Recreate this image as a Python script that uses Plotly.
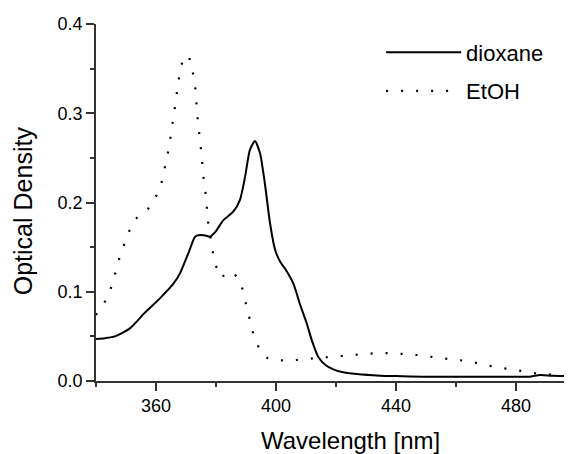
import plotly.graph_objects as go

# dioxane spectrum (solid line)
dioxane_nm = [340, 343, 346.3, 351.3, 356.3, 361.3, 365.8, 368, 371, 373, 374.7, 376.5, 378,
              380, 382.4, 385.8, 388, 389.7, 391.3, 393, 394.7, 396.3, 398, 399.7, 401.5,
              403, 405.8, 408, 410.2, 412, 414.1, 416.5, 419.1, 422, 426.9, 434.7, 440,
              449, 458, 468, 476, 484.7, 488, 492, 498.7]
dioxane_od = [0.047, 0.048, 0.050, 0.059, 0.0766, 0.0926, 0.109, 0.1206, 0.145, 0.1617, 0.1636,
              0.163, 0.1617, 0.168, 0.180, 0.190, 0.203, 0.229, 0.259, 0.269, 0.255, 0.221,
              0.177, 0.147, 0.133, 0.126, 0.109, 0.086, 0.065, 0.045, 0.027, 0.018, 0.013,
              0.010, 0.0078, 0.006, 0.0055, 0.0048, 0.0048, 0.0048, 0.0048, 0.0048, 0.0067,
              0.006, 0.0056]

# EtOH spectrum (dotted line)
etoh_nm = [340, 343, 345.2, 348, 350.8, 353, 357.4, 360.2, 361.9, 363, 363.9, 364.7, 365.4,
           366, 366.7, 367.3, 368, 369.1, 370.1, 371.1, 372.2, 373, 373.3, 373.8, 374.1, 374.7,
           375.1, 375.6, 376, 376.6, 377.4, 378.8, 379.7, 381.3, 383.5, 385.6, 388.3, 389.4,
           390.4, 391.5, 392.7, 394.9, 397, 399.3, 404.2, 409.1, 414.1, 419.1, 424.1, 429.1,
           434.1, 439.1, 444.1, 448.6, 453.6, 458.6, 463.6, 468.6, 473.6, 478.6, 483.6, 488,
           493.6, 498.7]
etoh_od = [0.074, 0.089, 0.106, 0.140, 0.166, 0.181, 0.193, 0.208, 0.223, 0.239, 0.254, 0.270,
           0.285, 0.301, 0.316, 0.332, 0.347, 0.362, 0.365, 0.362, 0.347, 0.332, 0.316, 0.301,
           0.285, 0.270, 0.254, 0.239, 0.223, 0.208, 0.177, 0.147, 0.132, 0.116, 0.119, 0.1225,
           0.110, 0.0945, 0.0795, 0.0646, 0.049, 0.0329, 0.026, 0.0235, 0.0228, 0.0243, 0.0261,
           0.0272, 0.0288, 0.0302, 0.0314, 0.0310, 0.0302, 0.0288, 0.0261, 0.0246, 0.0224,
           0.019, 0.0153, 0.013, 0.010, 0.0078, 0.0067, 0.006]

x_ticks = [360, 400, 440, 480]
y_ticks = [0.0, 0.1, 0.2, 0.3, 0.4]

fig = go.Figure()
fig.add_trace(go.Scatter(x=dioxane_nm, y=dioxane_od, mode="lines", name="dioxane",
                         legendgroup="a",
                         line=dict(color="black", width=2, shape="spline", smoothing=0.6)))
fig.add_trace(go.Scatter(x=etoh_nm, y=etoh_od, mode="lines", name="EtOH",
                         legendgroup="b",
                         line=dict(color="black", width=2.2, dash="2px,13px")))

# page body has an 8px margin, so the figure is a bit smaller than the window
axis_font = dict(family="Liberation Sans", size=18, color="black")
fig.update_layout(
    width=564, height=446,
    margin=dict(l=88, r=0, t=16, b=73),
    plot_bgcolor="white", paper_bgcolor="white",
    font=dict(family="Liberation Sans", color="black"),
    showlegend=True,
    legend=dict(x=0.599, y=0.979, xanchor="left", yanchor="top",
                bgcolor="rgba(0,0,0,0)", font=dict(size=22), itemwidth=75,
                tracegroupgap=7),
    xaxis=dict(range=[340, 498.67], tickvals=x_ticks, ticks="outside", ticklen=8,
               tickwidth=1.5, tickcolor="#333", showline=True, linecolor="#333",
               linewidth=1.5, showgrid=False, zeroline=False, tickfont=axis_font,
               automargin=False,
               minor=dict(tickvals=[340, 380, 420, 460], ticks="outside", ticklen=4,
                          tickwidth=1.5, tickcolor="#333")),
    yaxis=dict(range=[0, 0.4], tickvals=y_ticks, ticktext=["0.0", "0.1", "0.2", "0.3", "0.4"],
               ticks="outside", ticklen=8, tickwidth=1.5, tickcolor="#333",
               showline=True, linecolor="#333", linewidth=1.5, showgrid=False,
               zeroline=False, tickfont=axis_font, automargin=False,
               minor=dict(tickvals=[0.05, 0.15, 0.25, 0.35], ticks="outside", ticklen=4,
                          tickwidth=1.5, tickcolor="#333")),
)

# axis titles as annotations (they sit a little off-centre in the original)
fig.add_annotation(text="Wavelength [nm]", xref="paper", yref="paper", x=0.534, y=-0.168,
                   xanchor="center", yanchor="middle", showarrow=False,
                   font=dict(size=24))
fig.add_annotation(text="Optical Density", xref="paper", yref="paper", x=-0.153, y=0.476,
                   xanchor="center", yanchor="middle", textangle=-90, showarrow=False,
                   font=dict(size=25))

fig.write_html("out.html")
